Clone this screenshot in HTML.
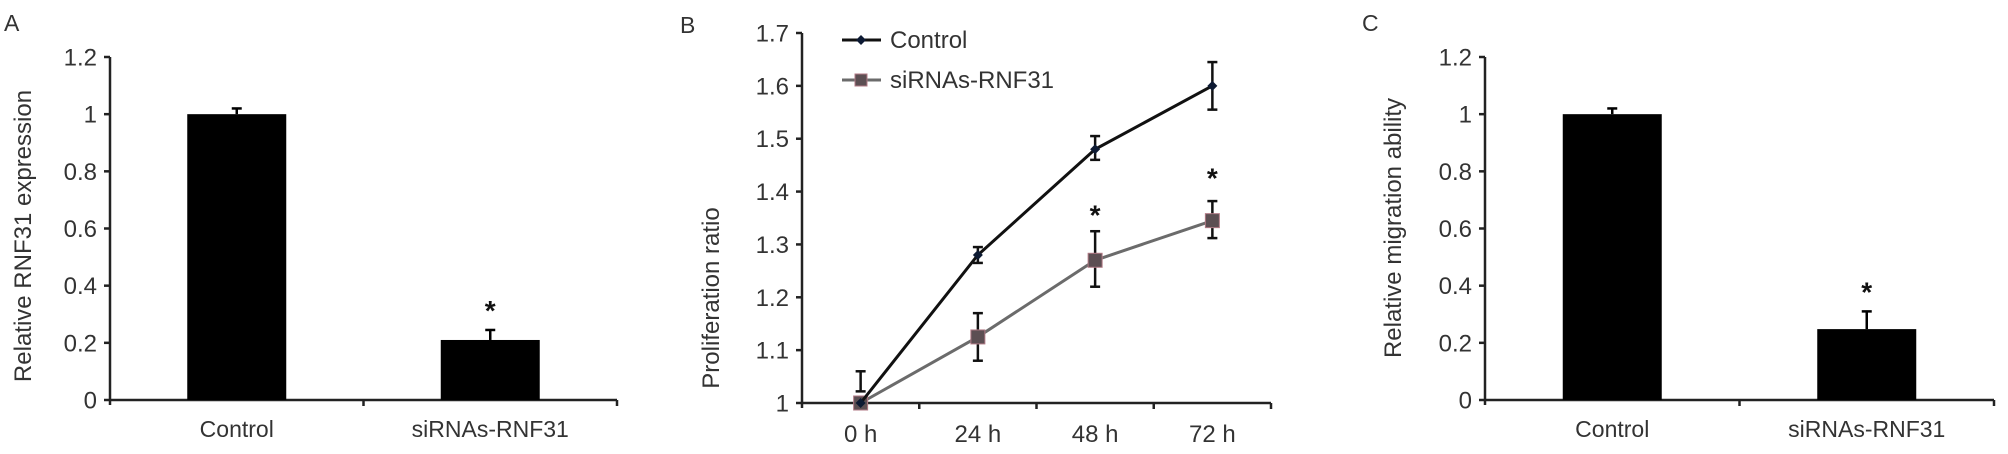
<!DOCTYPE html>
<html><head><meta charset="utf-8"><style>
html,body{margin:0;padding:0;background:#fff;}
svg{display:block;font-family:"Liberation Sans",Arial,sans-serif;}
</style></head><body>
<svg id="fig" width="2008" height="454" viewBox="0 0 2008 454" xmlns="http://www.w3.org/2000/svg"></svg>
<script>
// Panel A data
const aCategories = ["Control", "siRNAs-RNF31"];
const aValues = [1.0, 0.21];
const aErrors = [0.02, 0.035];
const aStars = [false, true];
const aTicks = [0, 0.2, 0.4, 0.6, 0.8, 1, 1.2];
const aTickLabels = ["0", "0.2", "0.4", "0.6", "0.8", "1", "1.2"];
// Panel B data
const bCategories = ["0 h", "24 h", "48 h", "72 h"];
const bControl = [1.0, 1.28, 1.48, 1.60];
const bControlHigh = [1.06, 1.295, 1.505, 1.645];
const bControlLow = [1.022, 1.265, 1.46, 1.555];
const bSi = [1.0, 1.125, 1.27, 1.345];
const bSiHigh = [1.0, 1.17, 1.325, 1.382];
const bSiLow = [1.0, 1.08, 1.22, 1.312];
const bStars = [false, false, true, true];
const bStarValues = [0, 0, 1.37, 1.44];
const bTicks = [1, 1.1, 1.2, 1.3, 1.4, 1.5, 1.6, 1.7];
const bTickLabels = ["1", "1.1", "1.2", "1.3", "1.4", "1.5", "1.6", "1.7"];
// Panel C data
const cCategories = ["Control", "siRNAs-RNF31"];
const cValues = [1.0, 0.248];
const cErrors = [0.02, 0.062];
const cStars = [false, true];
const cTicks = [0, 0.2, 0.4, 0.6, 0.8, 1, 1.2];
const cTickLabels = ["0", "0.2", "0.4", "0.6", "0.8", "1", "1.2"];

const svg = document.getElementById('fig');
const NS = 'http://www.w3.org/2000/svg';
function mk(tag, attrs, parent) {
  const e = document.createElementNS(NS, tag);
  for (const k in attrs) e.setAttribute(k, attrs[k]);
  (parent || svg).appendChild(e);
  return e;
}
const AX = '#222', TX = '#333', FS = 24;

function barPanel(cfg) {
  const g = mk('g', {});
  
  
  const y = v => cfg.y0 - (v - cfg.ymin) / (cfg.ymax - cfg.ymin) * (cfg.y0 - cfg.y1);
  const band = (cfg.x1 - cfg.x0) / cfg.cats.length;
  const xc = i => cfg.x0 + band * (i + 0.5);
  const letter = mk('text', {x: cfg.lx, y: 31, 'font-size': 23, fill: TX}, g);
  letter.textContent = cfg.letter;
  
  
  const ya = mk('line', {x1: cfg.x0, y1: y(cfg.ymax), x2: cfg.x0, y2: cfg.y0 + 5, stroke: AX, 'stroke-width': 2.5}, g);
  
  
  cfg.ticks.forEach((t, i) => {
    mk('line', {x1: cfg.x0 - 6, y1: y(t), x2: cfg.x0, y2: y(t), stroke: AX, 'stroke-width': 2.5}, g);
    const tl = mk('text', {x: cfg.x0 - 13, y: y(t) + 8.5, 'font-size': FS, fill: TX, 'text-anchor': 'end'}, g);
    tl.textContent = cfg.tickLabels[i];
    
    
  });
  const xa = mk('line', {x1: cfg.x0, y1: cfg.y0, x2: cfg.x1, y2: cfg.y0, stroke: AX, 'stroke-width': 2.5}, g);
  
  
  for (let i = 1; i <= cfg.cats.length; i++) {
    const xx = cfg.x0 + band * i;
    mk('line', {x1: xx, y1: cfg.y0, x2: xx, y2: cfg.y0 + 6, stroke: AX, 'stroke-width': 2.5}, g);
  }
  const bw = 99;
  cfg.cats.forEach((c, i) => {
    const v = cfg.values[i];
    const bar = mk('rect', {x: xc(i) - bw / 2, y: y(v), width: bw, height: cfg.y0 - y(v), fill: '#000'}, g);
    
    
    const e = cfg.errors[i];
    mk('line', {x1: xc(i), y1: y(v), x2: xc(i), y2: y(v + e), stroke: '#000', 'stroke-width': 2.5}, g);
    mk('line', {x1: xc(i) - 5, y1: y(v + e), x2: xc(i) + 5, y2: y(v + e), stroke: '#000', 'stroke-width': 2.5}, g);
    if (cfg.stars[i]) {
      const s = mk('text', {x: xc(i), y: y(v + e) - 10, 'font-size': 28, 'font-weight': 'bold', fill: '#111', 'text-anchor': 'middle'}, g);
      s.textContent = '*';
      
      
    }
    const cl = mk('text', {x: xc(i), y: 437, 'font-size': 23, fill: TX, 'text-anchor': 'middle'}, g);
    cl.textContent = c;
    
    
  });
  const yt = mk('text', {x: 0, y: 0, 'font-size': FS, fill: TX, 'text-anchor': 'middle', transform: `translate(${cfg.tx},${cfg.ty}) rotate(-90)`}, g);
  yt.textContent = cfg.title;
  
  
}

barPanel({name: 'panel-a-rnf31-expression', letter: 'A', lx: 4, x0: 110, x1: 617, y0: 400, y1: 57, ymin: 0, ymax: 1.2,
  cats: aCategories, values: aValues, errors: aErrors, stars: aStars, ticks: aTicks, tickLabels: aTickLabels,
  title: 'Relative RNF31 expression', tx: 31, ty: 236});
barPanel({name: 'panel-c-migration', letter: 'C', lx: 1362, x0: 1485, x1: 1994, y0: 400, y1: 57, ymin: 0, ymax: 1.2,
  cats: cCategories, values: cValues, errors: cErrors, stars: cStars, ticks: cTicks, tickLabels: cTickLabels,
  title: 'Relative migration ability', tx: 1401, ty: 228});

// Panel B
(function () {
  const g = mk('g', {});
  
  
  const x0 = 802, x1 = 1271, y0 = 403, y1 = 33, ymin = 1, ymax = 1.7;
  const y = v => y0 - (v - ymin) / (ymax - ymin) * (y0 - y1);
  const band = (x1 - x0) / bCategories.length;
  const xc = i => x0 + band * (i + 0.5);
  const letter = mk('text', {x: 680, y: 33, 'font-size': 23, fill: TX}, g);
  letter.textContent = 'B';
  
  
  const ya = mk('line', {x1: x0, y1: y1, x2: x0, y2: y0 + 5, stroke: AX, 'stroke-width': 2.5}, g);
  
  
  bTicks.forEach((t, i) => {
    mk('line', {x1: x0 - 6, y1: y(t), x2: x0, y2: y(t), stroke: AX, 'stroke-width': 2.5}, g);
    const tl = mk('text', {x: x0 - 13, y: y(t) + 8.5, 'font-size': FS, fill: TX, 'text-anchor': 'end'}, g);
    tl.textContent = bTickLabels[i];
    
    
  });
  const xa = mk('line', {x1: x0, y1: y0, x2: x1, y2: y0, stroke: AX, 'stroke-width': 2.5}, g);
  
  
  for (let i = 1; i <= bCategories.length; i++) {
    const xx = x0 + band * i;
    mk('line', {x1: xx, y1: y0, x2: xx, y2: y0 + 6, stroke: AX, 'stroke-width': 2.5}, g);
  }
  bCategories.forEach((c, i) => {
    const cl = mk('text', {x: xc(i), y: 442, 'font-size': FS, fill: TX, 'text-anchor': 'middle'}, g);
    cl.textContent = c;
    
    
  });
  function series(vals, hi, lo, color, width, marker, name) {
    const pts = vals.map((v, i) => xc(i) + ',' + y(v)).join(' ');
    const pl = mk('polyline', {points: pts, fill: 'none', stroke: color, 'stroke-width': width}, g);
    
    
    vals.forEach((v, i) => {
      if (hi[i] !== lo[i]) {
        mk('line', {x1: xc(i), y1: y(hi[i]), x2: xc(i), y2: y(lo[i]), stroke: '#111', 'stroke-width': 2.5}, g);
        mk('line', {x1: xc(i) - 5, y1: y(hi[i]), x2: xc(i) + 5, y2: y(hi[i]), stroke: '#111', 'stroke-width': 2.5}, g);
        mk('line', {x1: xc(i) - 5, y1: y(lo[i]), x2: xc(i) + 5, y2: y(lo[i]), stroke: '#111', 'stroke-width': 2.5}, g);
      }
      let m;
      if (marker === 'diamond') {
        const cx = xc(i), cy = y(v);
        m = mk('polygon', {points: `${cx},${cy-5} ${cx+5},${cy} ${cx},${cy+5} ${cx-5},${cy}`, fill: '#0d1a33'}, g);
      } else {
        m = mk('rect', {x: xc(i) - 7, y: y(v) - 7, width: 14, height: 14, fill: '#5c4f53', stroke: '#b07a85', 'stroke-width': 1}, g);
      }
      
      
    });
  }
  series(bSi, bSiHigh, bSiLow, '#6b6b6b', 3, 'square', 'sirna');
  series(bControl, bControlHigh, bControlLow, '#111', 3, 'diamond', 'control');
  bStars.forEach((s, i) => {
    if (!s) return;
    const st = mk('text', {x: xc(i), y: y(bStarValues[i]) + 17, 'font-size': 28, 'font-weight': 'bold', fill: '#111', 'text-anchor': 'middle'}, g);
    st.textContent = '*';
    
    
  });
  const lg = mk('g', {}, g);
  
  
  mk('line', {x1: 842, y1: 40, x2: 881, y2: 40, stroke: '#111', 'stroke-width': 3}, lg);
  mk('polygon', {points: '861,35 866,40 861,45 856,40', fill: '#0d1a33'}, lg);
  const t1 = mk('text', {x: 890, y: 48, 'font-size': FS, fill: TX}, lg);
  t1.textContent = 'Control';
  
  
  mk('line', {x1: 842, y1: 80, x2: 881, y2: 80, stroke: '#6b6b6b', 'stroke-width': 3}, lg);
  mk('rect', {x: 855, y: 74, width: 12, height: 12, fill: '#5c4f53', stroke: '#b07a85', 'stroke-width': 1}, lg);
  const t2 = mk('text', {x: 890, y: 88, 'font-size': FS, fill: TX}, lg);
  t2.textContent = 'siRNAs-RNF31';
  
  
  const yt = mk('text', {x: 0, y: 0, 'font-size': FS, fill: TX, 'text-anchor': 'middle', transform: 'translate(719,298) rotate(-90)'}, g);
  yt.textContent = 'Proliferation ratio';
  
  
})();
</script>
</body></html>
